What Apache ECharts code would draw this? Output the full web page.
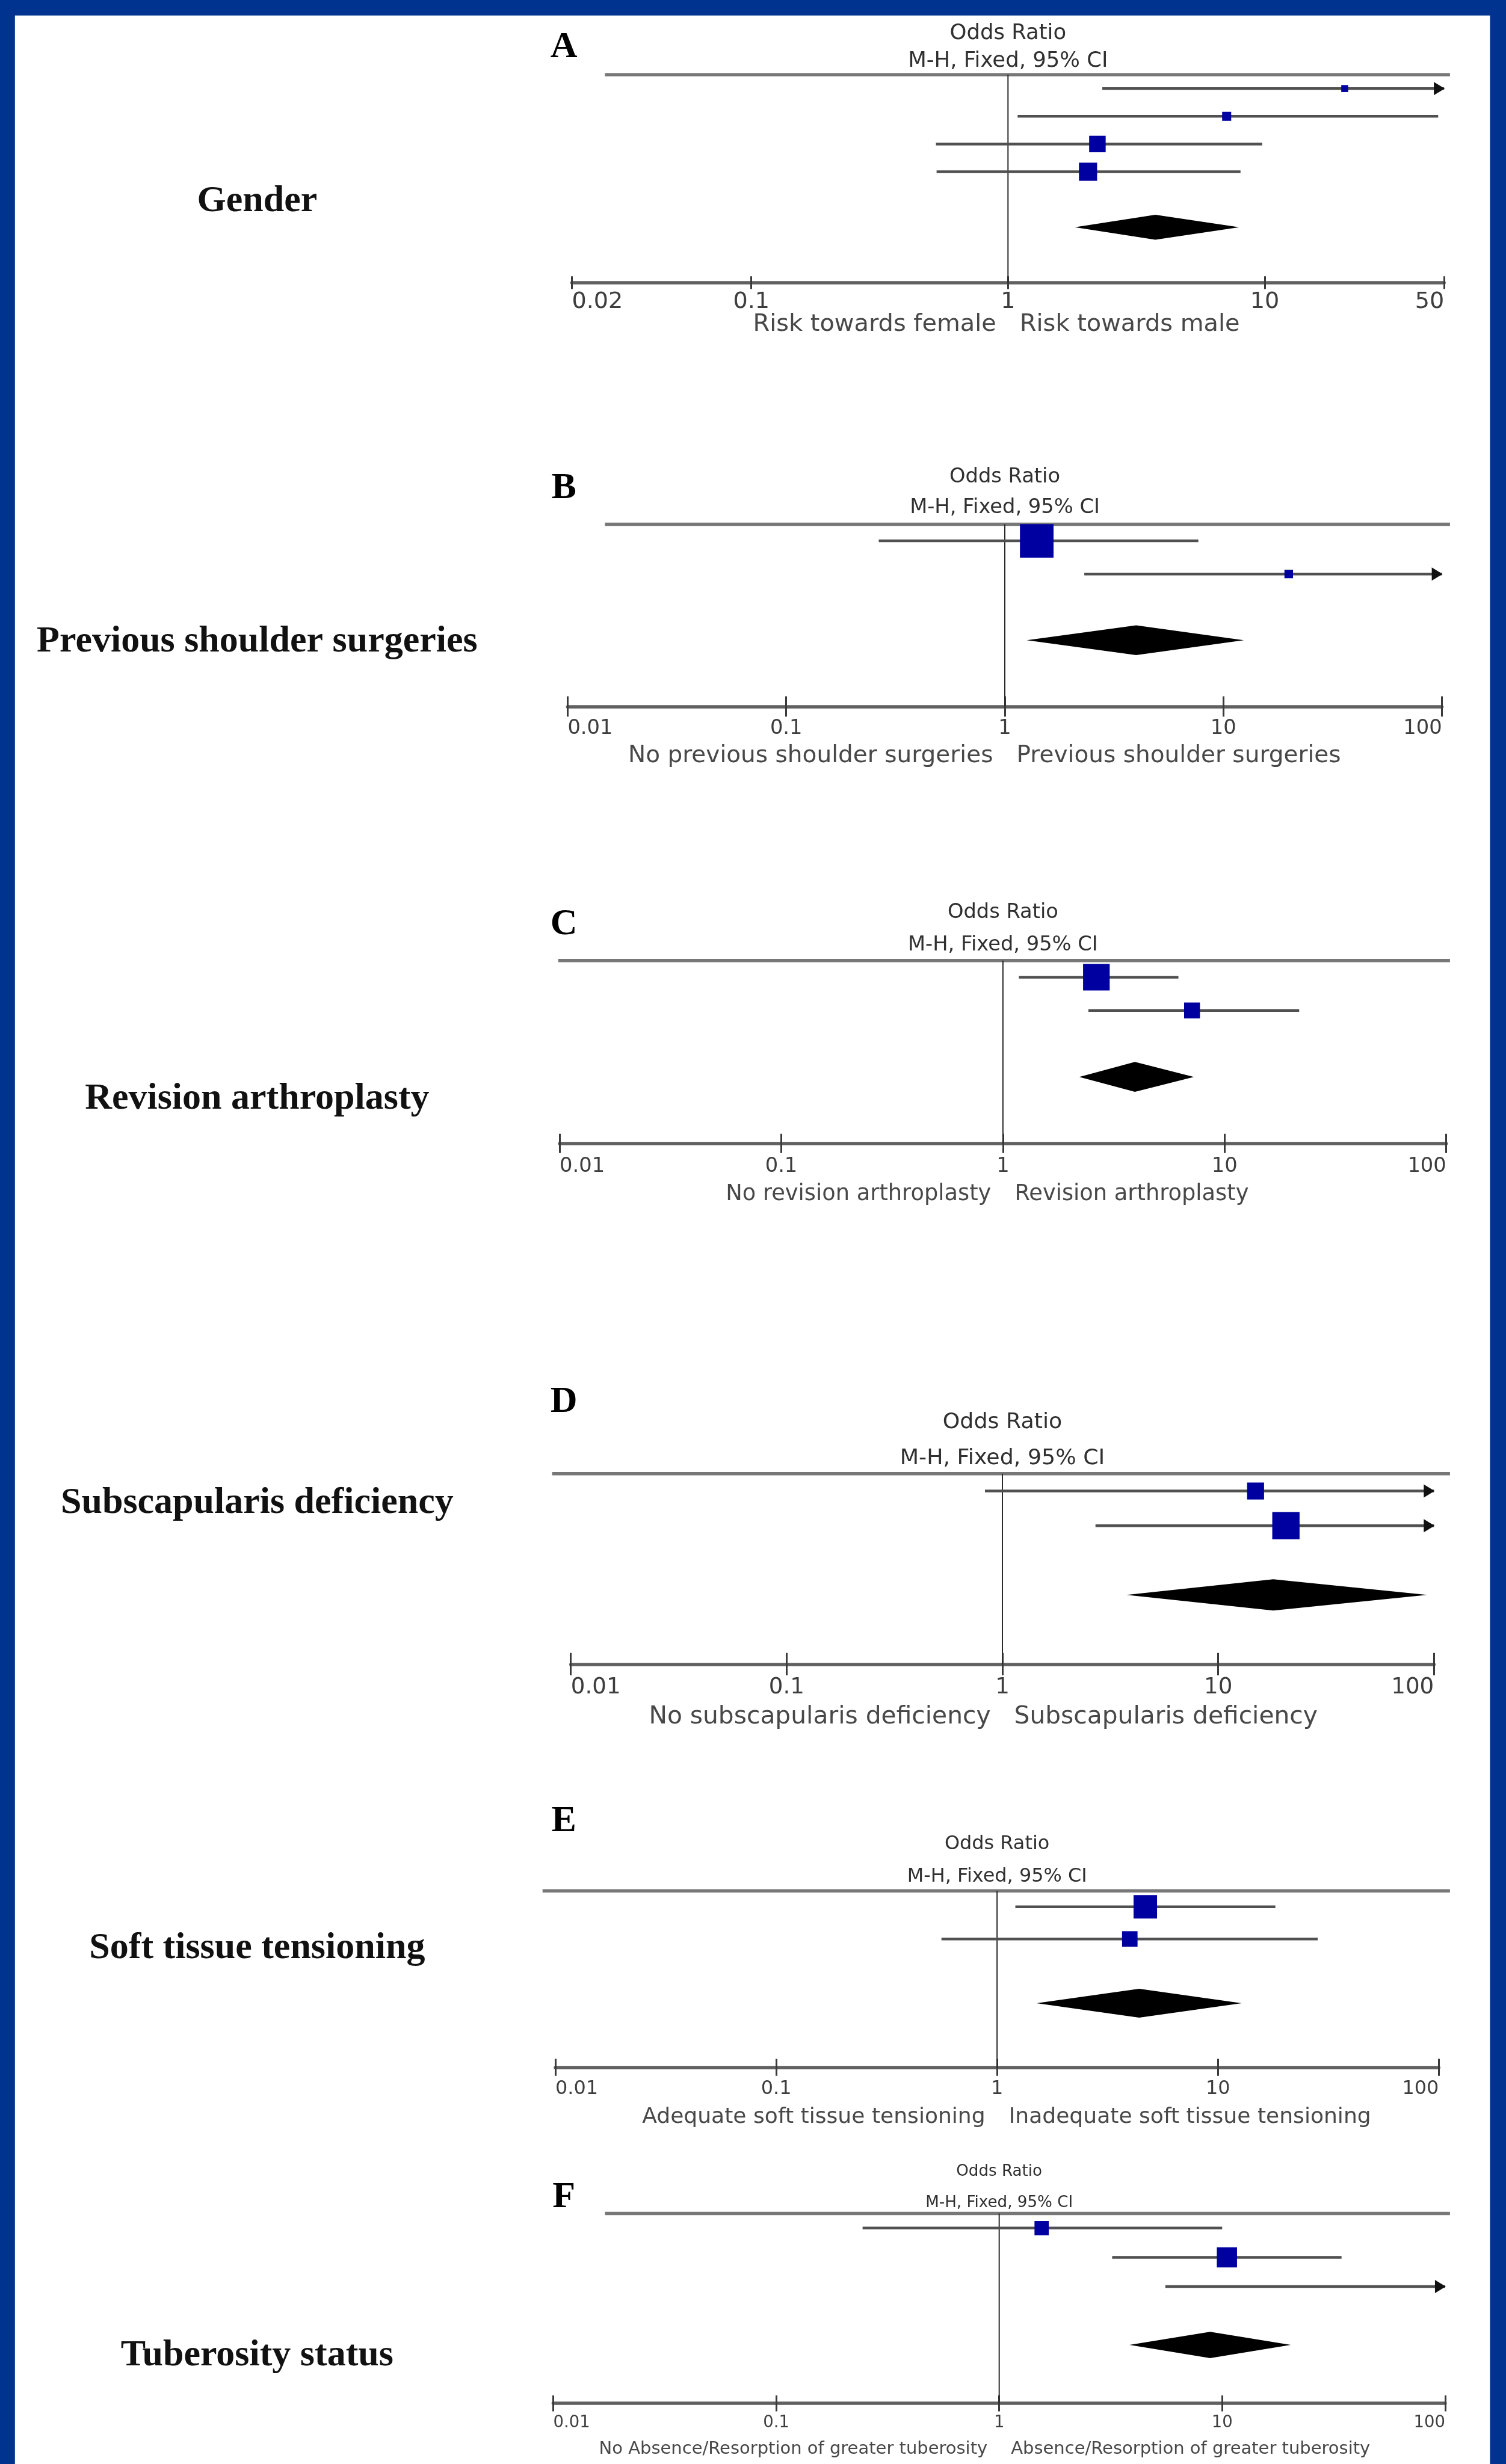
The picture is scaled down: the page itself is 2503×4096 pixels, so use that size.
<!DOCTYPE html>
<html>
<head>
<meta charset="utf-8">
<script src="https://cdn.jsdelivr.net/npm/echarts@6/dist/echarts.min.js"></script>
<style>
html,body{margin:0;padding:0;background:#ffffff;}
#chart{width:2503px;height:4096px;}
</style>
</head>
<body>
<div id="chart"></div>
<script>
// ---------------- DATA ----------------
const panelLetters = ['A', 'B', 'C', 'D', 'E', 'F'];
const factorNames = ['Gender', 'Previous shoulder surgeries', 'Revision arthroplasty',
  'Subscapularis deficiency', 'Soft tissue tensioning', 'Tuberosity status'];
const favoursLeft = ['Risk towards female', 'No previous shoulder surgeries', 'No revision arthroplasty',
  'No subscapularis deficiency', 'Adequate soft tissue tensioning', 'No Absence/Resorption of greater tuberosity'];
const favoursRight = ['Risk towards male', 'Previous shoulder surgeries', 'Revision arthroplasty',
  'Subscapularis deficiency', 'Inadequate soft tissue tensioning', 'Absence/Resorption of greater tuberosity'];
const headerLine1 = 'Odds Ratio';
const headerLine2 = 'M-H, Fixed, 95% CI';
const nullEffect = 1;

// tick labels (axis ends are the first/last values)
const ticksA = [0.02, 0.1, 1, 10, 50];
const ticksStd = [0.01, 0.1, 1, 10, 100];

// study odds ratios, 95% CI limits and relative weights (box area)
const orA = [20.5, 7.11, 2.23, 2.05];
const loA = [2.33, 1.09, 0.524, 0.527];
const hiA = [180, 47.4, 9.78, 8.05];
const wtA = [4.0, 6.8, 22.7, 27.4];
const pooledA = [1.82, 3.75, 7.96];   // lower, OR, upper

const orB = [1.40, 19.9];
const loB = [0.265, 2.31];
const hiB = [7.68, 171];
const wtB = [94, 6.1];
const pooledB = [1.26, 3.99, 12.4];

const orC = [2.64, 7.13];
const loC = [1.18, 2.43];
const hiC = [6.19, 21.7];
const wtC = [59, 21];
const pooledC = [2.21, 3.94, 7.27];

const orD = [14.9, 20.6];
const loD = [0.83, 2.70];
const hiD = [267, 157];
const wtD = [24, 62];
const pooledD = [3.76, 18.0, 93];

const orE = [4.69, 3.99];
const loE = [1.21, 0.56];
const hiE = [18.2, 28.3];
const wtE = [46, 20];
const pooledE = [1.51, 4.40, 12.8];

const orF = [1.55, 10.5, 130];
const loF = [0.244, 3.21, 5.56];
const hiF = [10.0, 34.3, 3000];
const wtF = [17, 34, 3];
const pooledF = [3.84, 8.83, 20.3];

const panelTicks = [ticksA, ticksStd, ticksStd, ticksStd, ticksStd, ticksStd];
const panelOR = [orA, orB, orC, orD, orE, orF];
const panelLo = [loA, loB, loC, loD, loE, loF];
const panelHi = [hiA, hiB, hiC, hiD, hiE, hiF];
const panelWt = [wtA, wtB, wtC, wtD, wtE, wtF];
const panelPooled = [pooledA, pooledB, pooledC, pooledD, pooledE, pooledF];

// ---------------- LAYOUT / STYLE (reference pixels, scaled below) ----------------
const S = 2503 / 2823;
const W = 2503, H = 4096;
const layout = [
  {axL:1072, axR:2707, top:140,  axY:530,    ruleL:1134,   letterY:89,     fs:43, hfs:40,   tfs:45,   tick:12, lblDy:34,   orDy:-77,  mhDy:-25, ttlDy:79},
  {axL:1064, axR:2703, top:983,  axY:1324.5, ruleL:1134,   letterY:916,    fs:38, hfs:38,   tfs:44,   tick:19, lblDy:40,   orDy:-88,  mhDy:-31, ttlDy:93},
  {axL:1049, axR:2711, top:1801, axY:2143.7, ruleL:1046.5, letterY:1733.6, fs:38, hfs:38,   tfs:41.5, tick:18, lblDy:41,   orDy:-90,  mhDy:-29, ttlDy:96},
  {axL:1070, axR:2688, top:2763, axY:3120,   ruleL:1035,   letterY:2629,   fs:42, hfs:41,   tfs:46,   tick:21, lblDy:42.5, orDy:-96,  mhDy:-29, ttlDy:99},
  {axL:1041, axR:2697, top:3545, axY:3876,   ruleL:1017,   letterY:3414.7, fs:36, hfs:36,   tfs:40.7, tick:16, lblDy:39,   orDy:-87.5,mhDy:-26, ttlDy:94},
  {axL:1037, axR:2709, top:4150, axY:4506,   ruleL:1134,   letterY:4119.5, fs:31, hfs:29.5, tfs:32.7, tick:15, lblDy:36,   orDy:-78,  mhDy:-20, ttlDy:86}
];
const ruleR = 2718;
const letterX = 1057;
const factorX = 482;
const factorY = [377.8, 1203.8, 2060, 2819, 3652.7, 4417];
const BLUE = '#00338f';
const BOX_K = 5.76;          // box side (px) per sqrt(weight)
const CI_COLOR = '#505050';
const BOX_COLOR = '#0000a0';
const SANS = 'DejaVu Sans';
const SERIF = 'Liberation Serif';

const fmt = v => String(+(+v).toPrecision(4));

const grids = [], xAxes = [], yAxes = [], series = [], graphics = [];

// border + white panel
graphics.push({type:'rect', shape:{x:0, y:0, width:W, height:29*S}, style:{fill:BLUE}});
graphics.push({type:'rect', shape:{x:0, y:0, width:28*S, height:H}, style:{fill:BLUE}});
graphics.push({type:'rect', shape:{x:2793*S, y:0, width:W - 2793*S, height:H}, style:{fill:BLUE}});

panelLetters.forEach((letter, i) => {
  const L = layout[i];
  const ticks = panelTicks[i];
  const xMin = ticks[0], xMax = ticks[ticks.length - 1];
  const nRows = panelOR[i].length;
  const yMax = nRows + 3.5;
  const fs = L.fs * S, hfs = L.hfs * S, tfs = L.tfs * S;

  grids.push({left: L.axL * S, top: L.top * S, width: (L.axR - L.axL) * S, height: (L.axY - L.top) * S,
    containLabel: false, outerBoundsMode: 'none'});

  const baseX = {
    type: 'log', logBase: 10, gridIndex: i, min: xMin, max: xMax, position: 'bottom',
    splitLine: {show: false}, minorTick: {show: false}, minorSplitLine: {show: false}
  };
  xAxes.push(Object.assign({}, baseX, {
    axisLine: {show: true, onZero: false, lineStyle: {color: '#606060', width: 5.5}},
    axisTick: {show: true, inside: false, length: L.tick * S, lineStyle: {color: '#3a3a3a', width: 3}},
    axisLabel: {show: true, margin: L.lblDy * S - 0.45 * fs, fontSize: fs, fontFamily: SANS, color: '#3e3e3e',
      alignMinLabel: 'left', alignMaxLabel: 'right', formatter: fmt}
  }));
  xAxes.push(Object.assign({}, baseX, {
    axisLine: {show: false, onZero: false},
    axisTick: {show: true, inside: true, length: L.tick * S, lineStyle: {color: '#3a3a3a', width: 3}},
    axisLabel: {show: false}
  }));
  yAxes.push({type: 'value', gridIndex: i, min: 0, max: yMax, inverse: true, show: false});

  const xIdx = i * 2;

  // reference line + header/footer texts, anchored at OR = 1
  series.push({
    type: 'custom', xAxisIndex: xIdx, yAxisIndex: i, silent: true, z: 2,
    data: [[nullEffect, 0]],
    encode: {x: 0, y: 1},
    renderItem: (params, api) => {
      const top = api.coord([api.value(0), 0]);
      const bot = api.coord([api.value(0), yMax]);
      return {type: 'group', children: [
        {type: 'line', shape: {x1: top[0], y1: top[1], x2: bot[0], y2: bot[1]}, style: {stroke: '#2a2a2a', lineWidth: 2}},
        {type: 'text', x: top[0], y: top[1] + L.orDy * S, style: {text: headerLine1, fill: '#303030', fontSize: hfs, fontFamily: SANS, align: 'center', verticalAlign: 'middle'}},
        {type: 'text', x: top[0], y: top[1] + L.mhDy * S, style: {text: headerLine2, fill: '#303030', fontSize: hfs, fontFamily: SANS, align: 'center', verticalAlign: 'middle'}},
        {type: 'text', x: bot[0] - 22 * S, y: bot[1] + L.ttlDy * S, style: {text: favoursLeft[i], fill: '#484848', fontSize: tfs, fontFamily: SANS, align: 'right', verticalAlign: 'middle'}},
        {type: 'text', x: bot[0] + 22 * S, y: bot[1] + L.ttlDy * S, style: {text: favoursRight[i], fill: '#484848', fontSize: tfs, fontFamily: SANS, align: 'left', verticalAlign: 'middle'}}
      ]};
    }
  });

  // individual studies
  const studyData = panelOR[i].map((v, j) => [panelLo[i][j], v, panelHi[i][j], j + 0.5, panelWt[i][j]]);
  series.push({
    type: 'custom', xAxisIndex: xIdx, yAxisIndex: i, silent: true, z: 3,
    data: studyData,
    encode: {x: [0, 1, 2], y: 3},
    renderItem: (params, api) => {
      const lo = api.value(0), or = api.value(1), hi = api.value(2), row = api.value(3), w = api.value(4);
      const p1 = api.coord([Math.max(lo, xMin), row]);
      const p2 = api.coord([Math.min(hi, xMax), row]);
      const children = [{type: 'line', shape: {x1: p1[0], y1: p1[1], x2: p2[0], y2: p2[1]}, style: {stroke: CI_COLOR, lineWidth: 4.5}}];
      if (hi > xMax) {
        children.push({type: 'polygon', shape: {points: [[p2[0] + 1, p2[1]], [p2[0] - 17, p2[1] - 11], [p2[0] - 17, p2[1] + 11]]}, style: {fill: '#111'}});
      }
      if (lo < xMin) {
        children.push({type: 'polygon', shape: {points: [[p1[0] - 1, p1[1]], [p1[0] + 17, p1[1] - 11], [p1[0] + 17, p1[1] + 11]]}, style: {fill: '#111'}});
      }
      if (or >= xMin && or <= xMax && w > 0) {
        const c = api.coord([or, row]);
        const sz = BOX_K * Math.sqrt(w);
        children.push({type: 'rect', shape: {x: c[0] - sz / 2, y: c[1] - sz / 2, width: sz, height: sz}, style: {fill: BOX_COLOR}});
      }
      return {type: 'group', children};
    }
  });

  // pooled estimate diamond
  const pooled = panelPooled[i];
  series.push({
    type: 'custom', xAxisIndex: xIdx, yAxisIndex: i, silent: true, z: 3,
    data: [[pooled[0], pooled[1], pooled[2], nRows + 1.5]],
    encode: {x: [0, 1, 2], y: 3},
    renderItem: (params, api) => {
      const lo = api.value(0), or = api.value(1), hi = api.value(2), row = api.value(3);
      const a = api.coord([lo, row]), b = api.coord([or, row - 0.45]), c = api.coord([hi, row]), d = api.coord([or, row + 0.45]);
      return {type: 'polygon', shape: {points: [a, b, c, d]}, style: {fill: '#000'}};
    }
  });

  // header rule
  graphics.push({type: 'line', shape: {x1: L.ruleL * S, y1: L.top * S, x2: ruleR * S, y2: L.top * S}, style: {stroke: '#777777', lineWidth: 5.5}});
  // panel letter
  graphics.push({type: 'text', x: letterX * S, y: L.letterY * S, style: {text: letter, fill: '#000', font: 'bold 62px "' + SERIF + '"', align: 'center', verticalAlign: 'middle'}});
  // factor label
  graphics.push({type: 'text', x: factorX * S, y: factorY[i] * S, style: {text: factorNames[i], fill: '#111', font: 'bold ' + Math.round(70 * S) + 'px "' + SERIF + '"', align: 'center', verticalAlign: 'middle'}});
});

const chart = echarts.init(document.getElementById('chart'), null, {renderer: 'canvas', width: W, height: H});
chart.setOption({
  backgroundColor: '#ffffff',
  animation: false,
  textStyle: {fontFamily: SANS},
  grid: grids,
  xAxis: xAxes,
  yAxis: yAxes,
  graphic: {elements: graphics},
  series: series
});
</script>
</body>
</html>
